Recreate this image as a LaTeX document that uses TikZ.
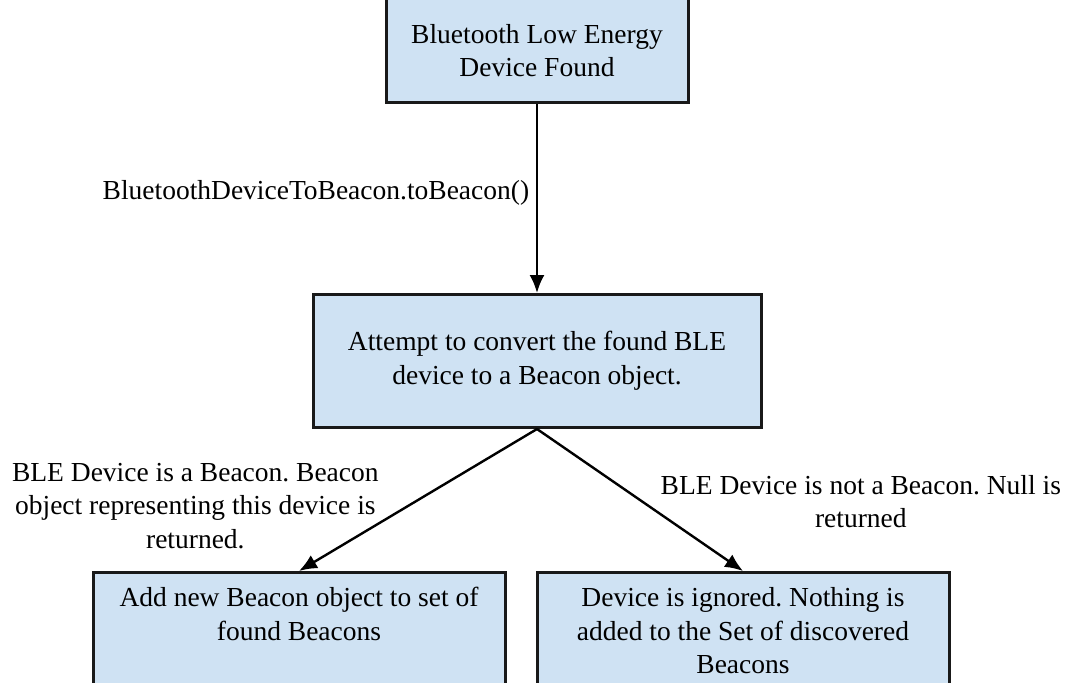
\documentclass[tikz,border=0pt]{standalone}
\usepackage{fontspec}
\setmainfont{Liberation Serif}
\frenchspacing
\usetikzlibrary{positioning,arrows.meta}
\definecolor{boxblue}{HTML}{CFE2F3}

\begin{document}
\begin{tikzpicture}[
    node distance=2cm,
    every node/.style={font=\fontsize{13.75}{16.8}\selectfont},
    box/.style={rectangle, draw=black!90, line width=1.5pt, fill=boxblue, align=flush center, inner sep=4.6pt},
    endbox/.style={box, minimum width=206pt, text width=196pt, text height=12.4pt, text depth=45pt},
    lbl/.style={align=center},
    arrow/.style={-{Latex[length=9pt,width=7.5pt]}, line width=1.2pt}
]
    \useasboundingbox (0,0) rectangle (533pt,-341pt);

    \node[box, anchor=south, minimum width=151pt, text width=141pt, text height=30pt, text depth=25pt] (found) at (268.5pt,-52pt) {Bluetooth Low Energy\\Device Found};
    \node[box, minimum width=224pt, minimum height=66.5pt, below=94.5pt of found] (convert) {Attempt to convert the found BLE\\device to a Beacon object.};
    \node[endbox, below=71pt of convert, xshift=-119pt] (added) {Add new Beacon object to set of\\found Beacons};
    \node[endbox, below=71pt of convert, xshift=103pt] (ignored) {Device is ignored. Nothing is\\added to the Set of discovered\\Beacons};

    \draw[arrow] (found) -- (convert) node[pos=0.47, left] {BluetoothDeviceToBeacon.toBeacon()};
    \draw[arrow] (convert.south) -- (added.north) node[lbl, pos=0.54, left=11pt] {BLE Device is a Beacon. Beacon\\object representing this device is\\returned.};
    \draw[arrow] (convert.south) -- (ignored.north) node[lbl, pos=0.51, right=5.4pt] {BLE Device is not a Beacon. Null is\\returned};
\end{tikzpicture}
\end{document}
